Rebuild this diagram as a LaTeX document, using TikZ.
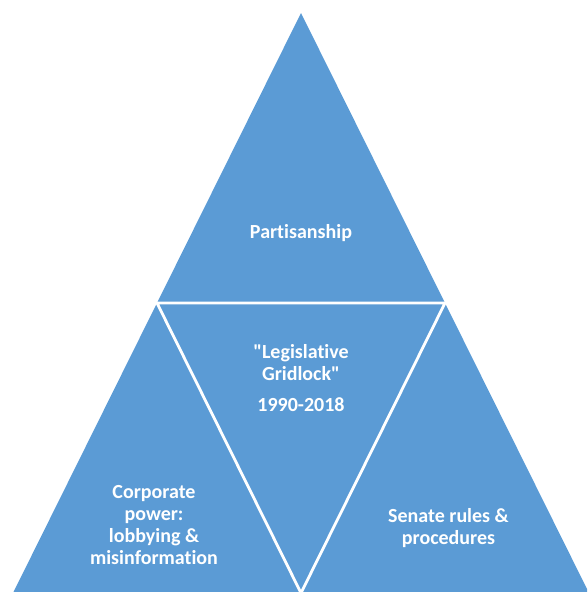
\documentclass[tikz,border=0pt]{standalone}
\usepackage{fontspec}
\setmainfont{Carlito}[Ligatures={NoCommon,TeXOff}]
\definecolor{tri}{HTML}{5B9BD5}
\begin{document}
\begin{tikzpicture}[x=1pt,y=-1pt,
  piece/.style={fill=tri},
  seam/.style={draw=white,line width=2.8pt,line join=miter},
  lbl/.style={text=white,font=\bfseries\fontsize{20}{22}\selectfont,inner sep=0pt,anchor=base}]
\useasboundingbox (0,0) rectangle (587,592);
\clip (0,0) rectangle (587,592);
% corners of the large triangle and the midpoints of its sides
\coordinate (A) at (301,13);
\coordinate (BL) at (13,593);
\coordinate (BR) at (589,593);
\coordinate (ML) at (157,303);
\coordinate (MR) at (445,303);
\coordinate (MB) at (301,593);
% the large triangle, split into four by white seams
\fill[piece] (A) -- (BL) -- (BR) -- cycle;
\draw[seam] (ML) -- (MR) -- (MB) -- cycle;
% labels
\node[lbl] (part) at (301,238) {Partisanship};
\node[lbl] (leg1) at (301,358) {"Legislative};
\node[lbl] (leg2) at (301,380) {Gridlock"};
\node[lbl] (leg3) at (301,411) {1990-2018};
\node[lbl] (corp1) at (154,498) {Corporate};
\node[lbl] (corp2) at (154,520) {power:};
\node[lbl] (corp3) at (154,542) {lobbying \&};
\node[lbl] (corp4) at (154,564) {misinformation};
\node[lbl] (sen1) at (448.5,522) {Senate rules \&};
\node[lbl] (sen2) at (448.5,544) {procedures};
\end{tikzpicture}
\end{document}
